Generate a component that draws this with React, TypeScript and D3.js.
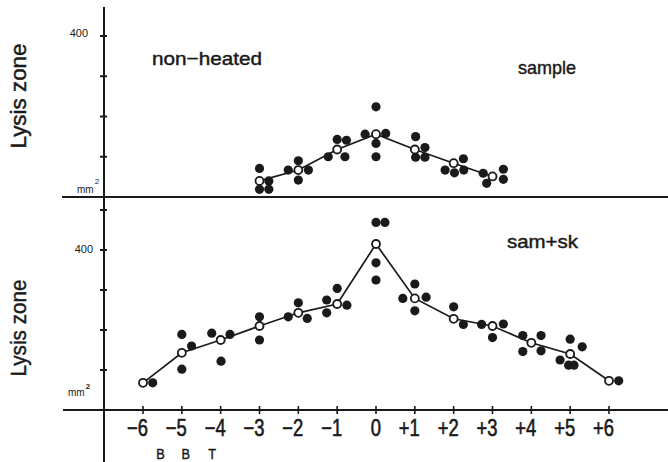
import React from "react";
import * as d3 from "d3";

// ---- data ----
const xTicks = [-6, -5, -4, -3, -2, -1, 0, 1, 2, 3, 4, 5, 6];
const xTickLabels = ["−6", "−5", "−4", "−3", "−2", "−1", "0", "+1", "+2", "+3", "+4", "+5", "+6"];
const footLabels = ["B", "B", "T"];
const footX = [-5.55, -4.9, -4.22];

const yTicksTop = [100, 200, 300, 400];
const yTicksBottom = [100, 200, 300, 400, 500];
const yLabelValue = 400;

// non-heated sample: group means (open circles)
const topMeans: [number, number][] = [
  [-3, 40], [-2, 67], [-1, 118], [0, 156], [1, 118], [2, 84], [3, 51],
];
// individual measurements (filled dots) [x position, value]
const topDots: [number, number][] = [
  [-3, 71], [-2.76, 40], [-3, 19], [-2.76, 19],
  [-2.26, 67], [-2, 90], [-1.74, 67], [-2, 42],
  [-1, 143], [-0.76, 141], [-1.23, 100], [-0.8, 100],
  [0, 224], [-0.28, 156], [0.25, 158], [0, 133], [0, 100],
  [1.02, 150], [1.26, 123], [1.02, 99], [1.26, 99],
  [2.25, 95], [1.78, 67], [2.02, 60], [2.26, 67],
  [2.76, 59], [2.85, 34], [3.28, 69], [3.28, 44],
];

// sam + sk
const bottomMeans: [number, number][] = [
  [-6, 68], [-5, 143], [-4, 175], [-3, 210], [-2, 243], [-1, 265], [0, 415],
  [1, 279], [2, 228], [3, 210], [4, 168], [5, 140], [6, 73],
];
const bottomDots: [number, number][] = [
  [-5.75, 68],
  [-5, 189], [-4.75, 160], [-5, 102],
  [-4.23, 192], [-3.76, 189], [-3.99, 122],
  [-3, 233], [-3, 175],
  [-2.26, 233], [-2, 268], [-1.77, 229],
  [-1.27, 275], [-1.27, 243], [-1, 304], [-0.75, 262],
  [0, 469], [0.23, 469], [0, 368], [0, 325],
  [1, 315], [0.69, 279], [1.29, 282], [1, 248],
  [2, 258], [2.25, 214],
  [2.72, 214], [3.28, 215], [3, 181],
  [3.78, 186], [4.25, 186], [3.78, 146], [4.25, 148],
  [5, 177], [5.31, 158], [4.74, 125], [4.96, 112], [5.1, 112],
  [6.25, 73],
];

const FONT = "'Liberation Sans', Arial, sans-serif";
const INK = "#1a1a1a";

export default function App() {
  const W = 668, H = 462;
  const x = d3.scaleLinear().domain([-6, 6]).range([143, 609]);
  const yTop = d3.scaleLinear().domain([0, 400]).range([197, 36]);
  const yBot = d3.scaleLinear().domain([0, 400]).range([410, 250]);
  const axisX = 104;

  const lineTop = d3.line<[number, number]>().x(d => x(d[0])).y(d => yTop(d[1]));
  const lineBot = d3.line<[number, number]>().x(d => x(d[0])).y(d => yBot(d[1]));

  const bold = { stroke: INK, strokeWidth: 0.45 };

  const panel = (
    means: [number, number][],
    dots: [number, number][],
    y: d3.ScaleLinear<number, number>,
    line: d3.Line<[number, number]>,
    key: string
  ) => (
    <g key={key}>
      <path d={line(means) || ""} fill="none" stroke={INK} strokeWidth={1.7} />
      {dots.map((d, i) => (
        <circle key={"d" + i} cx={x(d[0])} cy={y(d[1])} r={4.6} fill={INK} />
      ))}
      {means.map((d, i) => (
        <circle key={"m" + i} cx={x(d[0])} cy={y(d[1])} r={4} fill="#fff" stroke={INK} strokeWidth={1.8} />
      ))}
    </g>
  );

  return (
    <svg width={W} height={H} style={{ position: "absolute", left: 0, top: 0, background: "#fff" }} fontFamily={FONT}>
      <rect width={W} height={H} fill="#fff" />
      {/* frame lines */}
      <line x1={axisX} x2={axisX} y1={7} y2={H} stroke={INK} strokeWidth={2} />
      <line x1={62} x2={W} y1={yTop(0)} y2={yTop(0)} stroke={INK} strokeWidth={2} />
      <line x1={63} x2={W} y1={yBot(0)} y2={yBot(0)} stroke={INK} strokeWidth={2} />

      {/* y ticks */}
      {yTicksTop.map(t => (
        <line key={"yt" + t} x1={axisX - 4} x2={axisX + 3} y1={yTop(t)} y2={yTop(t)} stroke={INK} strokeWidth={2} />
      ))}
      {yTicksBottom.map(t => (
        <line key={"yb" + t} x1={axisX - 4} x2={axisX + 3} y1={yBot(t)} y2={yBot(t)} stroke={INK} strokeWidth={2} />
      ))}
      <text x={88} y={yTop(yLabelValue) + 1} fontSize={11} textAnchor="end" fill={INK}>{yLabelValue}</text>
      <text x={93} y={yBot(yLabelValue) + 3} fontSize={11} textAnchor="end" fill={INK}>{yLabelValue}</text>

      {/* mm² labels */}
      <text x={77} y={193} fontSize={10} fill={INK}>mm<tspan dx={1} dy={-9} fontSize={8}>2</tspan></text>
      <text x={68} y={396} fontSize={10} fill={INK}>mm<tspan dx={1} dy={-7} fontSize={8} fontWeight="bold">2</tspan></text>

      {/* y titles */}
      <text transform={`translate(26,96) rotate(-90)`} fontSize={22} textAnchor="middle" fill={INK} {...bold}
        textLength={105} lengthAdjust="spacingAndGlyphs">Lysis  zone</text>
      <text transform={`translate(26,328) rotate(-90)`} fontSize={22} textAnchor="middle" fill={INK} {...bold}
        textLength={97} lengthAdjust="spacingAndGlyphs">Lysis  zone</text>

      {/* panel titles */}
      <text x={152} y={65} fontSize={19} fill={INK} {...bold} textLength={110} lengthAdjust="spacingAndGlyphs">non−heated</text>
      <text x={518} y={74} fontSize={19} fill={INK} {...bold} textLength={58} lengthAdjust="spacingAndGlyphs">sample</text>
      <text x={507} y={248} fontSize={19} fill={INK} {...bold} textLength={71} lengthAdjust="spacingAndGlyphs">sam+sk</text>

      {/* x ticks */}
      {xTicks.map(t => (
        <line key={"xt" + t} x1={x(t)} x2={x(t)} y1={yBot(0) - 4} y2={yBot(0) + 4} stroke={INK} strokeWidth={1.6} />
      ))}
      {xTicks.map((t, i) => (
        <text key={"xl" + t} transform={`translate(${x(t) + 5},436) scale(0.8,1)`} fontSize={23}
          textAnchor="end" fill={INK} stroke={INK} strokeWidth={0.6}>{xTickLabels[i]}</text>
      ))}
      {footLabels.map((l, i) => (
        <text key={"f" + i} transform={`translate(${x(footX[i])},459) scale(0.85,1)`} fontSize={15}
          textAnchor="middle" fill={INK} {...bold}>{l}</text>
      ))}

      {panel(topMeans, topDots, yTop, lineTop, "top")}
      {panel(bottomMeans, bottomDots, yBot, lineBot, "bot")}
    </svg>
  );
}
